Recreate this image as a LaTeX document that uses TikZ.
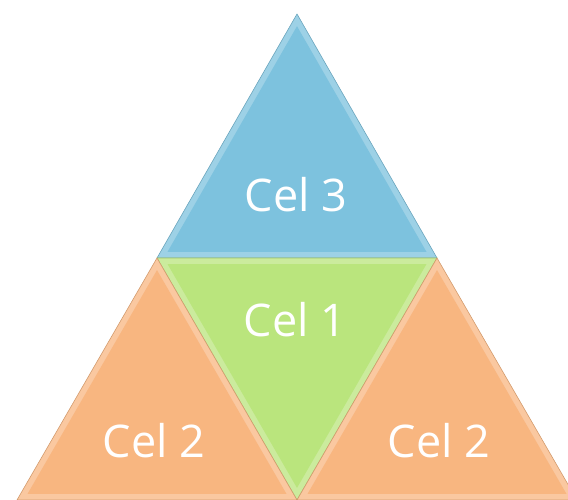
\documentclass[tikz,border=0pt]{standalone}
\usepackage{fontspec}
\setmainfont{Open Sans}
\usetikzlibrary{calc}
\definecolor{celblue}{RGB}{125,194,222}
\definecolor{celgreen}{RGB}{186,229,125}
\definecolor{celorange}{RGB}{248,182,128}
\tikzset{
	rim/.style={fill=#1!75!white, draw=#1!85!black, line width=0.6pt, line join=round},
	face/.style={fill=#1},
	celtext/.style={text=white, font=\fontsize{45}{45}\selectfont, inner sep=0pt, anchor=base}
}
% bevelled triangle: outer rim, then inner face
\newcommand{\celtri}[4]{%
	\path[rim=#4] (#1) -- (#2) -- (#3) -- cycle;
	\path[face=#4] ($(#1)!0.05!($(#2)!0.5!(#3)$)$) -- ($(#2)!0.05!($(#1)!0.5!(#3)$)$) -- ($(#3)!0.05!($(#1)!0.5!(#2)$)$) -- cycle;
}

\begin{document}
\begin{tikzpicture}[x=1pt, y=1pt]
	\useasboundingbox (0,0) rectangle (568,500);
	\clip (0,0) rectangle (568,500);
	
	% corners
	\coordinate (top) at (297,486);
	\coordinate (midl) at (157,242);
	\coordinate (midr) at (437,242);
	\coordinate (bot) at (297,0);
	\coordinate (botl) at (17,0);
	\coordinate (botr) at (577,0);
	
	% cells
	\celtri{top}{midl}{midr}{celblue}
	\celtri{midl}{midr}{bot}{celgreen}
	\celtri{midl}{botl}{bot}{celorange}
	\celtri{midr}{bot}{botr}{celorange}
	
	% texts
	\node (c3) [celtext] at (296,288) {Cel 3};
	\node (c1) [celtext] at (295,163) {Cel 1};
	\node (c2l) [celtext] at (154,42) {Cel 2};
	\node (c2r) [celtext] at (439,42) {Cel 2};
\end{tikzpicture}
\end{document}
